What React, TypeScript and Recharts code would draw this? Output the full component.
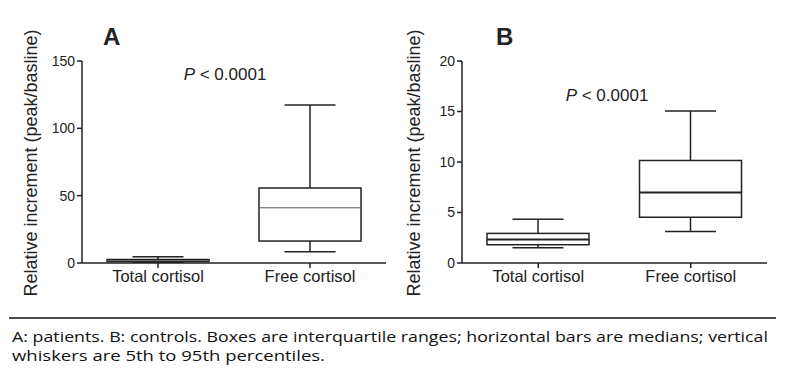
import { Bar, ComposedChart, XAxis, YAxis } from 'recharts';

const categories = ['Total cortisol', 'Free cortisol'];

// A: patients
const patientsLow = [0.6, 8.4];
const patientsQ1 = [1.0, 16.3];
const patientsMedian = [1.7, 41];
const patientsQ3 = [2.6, 55.7];
const patientsHigh = [4.6, 117.3];
const patientsTicks = [0, 50, 100, 150];

// B: controls
const controlsLow = [1.52, 3.12];
const controlsQ1 = [1.81, 4.53];
const controlsMedian = [2.33, 6.97];
const controlsQ3 = [2.93, 10.15];
const controlsHigh = [4.34, 15.04];
const controlsTicks = [0, 5, 10, 15, 20];

const FONT = '"Liberation Sans", Arial, sans-serif';
const INK = '#222';

type Row = { name: string; lo: number; q1: number; med: number; q3: number; hi: number };

function buildRows(lo: number[], q1: number[], med: number[], q3: number[], hi: number[]): Row[] {
  return categories.map((name, i) => ({ name, lo: lo[i], q1: q1[i], med: med[i], q3: q3[i], hi: hi[i] }));
}

// box + whiskers, positioned from the range bar that recharts lays out (lo..hi)
function makeBoxShape(medianWidth: number, medianColor: string) {
  return (props: any) => {
    const { x, y, width, height, payload } = props;
    const top = Math.min(y, y + height);
    const h = Math.abs(height);
    const bottom = top + h;
    const span = payload.hi - payload.lo;
    const py = (v: number) => bottom - ((v - payload.lo) / span) * h;
    const cx = x + width / 2;
    const cap = width / 4;
    return (
      <g stroke={INK} fill="none">
        <line x1={cx} x2={cx} y1={py(payload.hi)} y2={py(payload.q3)} strokeWidth={1.5} />
        <line x1={cx} x2={cx} y1={py(payload.q1)} y2={py(payload.lo)} strokeWidth={1.5} />
        <line x1={cx - cap} x2={cx + cap} y1={py(payload.hi)} y2={py(payload.hi)} strokeWidth={1.5} />
        <line x1={cx - cap} x2={cx + cap} y1={py(payload.lo)} y2={py(payload.lo)} strokeWidth={1.5} />
        <rect x={x} y={py(payload.q3)} width={width} height={py(payload.q1) - py(payload.q3)} fill="#fff" strokeWidth={1.5} />
        <line x1={x} x2={x + width} y1={py(payload.med)} y2={py(payload.med)} stroke={medianColor} strokeWidth={medianWidth} />
      </g>
    );
  };
}

function BoxPanel({ rows, ticks, marginLeft, marginRight, medianWidth, medianColor }: {
  rows: Row[]; ticks: number[]; marginLeft: number; marginRight: number; medianWidth: number; medianColor: string;
}) {
  return (
    <ComposedChart width={400} height={300} data={rows} margin={{ top: 61, right: marginRight, bottom: 7, left: marginLeft }}>
      <XAxis
        dataKey="name"
        tickSize={5}
        tickLine={{ stroke: INK, strokeWidth: 1.5 }}
        axisLine={{ stroke: INK, strokeWidth: 1.5 }}
        tick={{ fontSize: 16.5, fill: INK, fontFamily: FONT }}
        height={30}
        interval={0}
      />
      <YAxis
        width={40}
        domain={[0, ticks[ticks.length - 1]]}
        ticks={ticks}
        interval={0}
        tickSize={5}
        tickLine={{ stroke: INK, strokeWidth: 1.5 }}
        axisLine={{ stroke: INK, strokeWidth: 1.5 }}
        tick={{ fontSize: 14, fill: INK, fontFamily: FONT }}
      />
      <Bar
        dataKey={(d: Row) => [d.lo, d.hi]}
        barSize={102}
        shape={makeBoxShape(medianWidth, medianColor)}
        isAnimationActive={false}
      />
    </ComposedChart>
  );
}

export default function App() {
  const patients = buildRows(patientsLow, patientsQ1, patientsMedian, patientsQ3, patientsHigh);
  const controls = buildRows(controlsLow, controlsQ1, controlsMedian, controlsQ3, controlsHigh);
  return (
    <div style={{ position: 'absolute', left: 0, top: 0, width: 791, height: 389, background: '#fff' }}>
      <div style={{ position: 'absolute', left: 0, top: 0 }}>
        <BoxPanel rows={patients} ticks={patientsTicks} marginLeft={42} marginRight={14} medianWidth={1} medianColor="#555" />
      </div>
      <div style={{ position: 'absolute', left: 390, top: 0 }}>
        <BoxPanel rows={controls} ticks={controlsTicks} marginLeft={32} marginRight={23} medianWidth={2} medianColor={INK} />
      </div>
      <svg width={791} height={389} style={{ position: 'absolute', left: 0, top: 0, pointerEvents: 'none' }}>
        <g fontFamily={FONT} fill={INK}>
          <text x={103} y={45} fontSize={24} fontWeight="bold">A</text>
          <text x={496} y={45} fontSize={24} fontWeight="bold">B</text>
          <text x={225} y={80} fontSize={17} textAnchor="middle">
            <tspan fontStyle="italic">P</tspan> &lt; 0.0001
          </text>
          <text x={607} y={101} fontSize={17} textAnchor="middle">
            <tspan fontStyle="italic">P</tspan> &lt; 0.0001
          </text>
          <text x={37} y={163} fontSize={18} textAnchor="middle" transform="rotate(-90 37 163)">
            Relative increment (peak/basline)
          </text>
          <text x={420} y={163} fontSize={18} textAnchor="middle" transform="rotate(-90 420 163)">
            Relative increment (peak/basline)
          </text>
        </g>
        <line x1={9} x2={776} y1={318} y2={318} stroke="#111" strokeWidth={1.5} />
        <g fontFamily='"Open Sans", "Noto Sans", sans-serif' fontSize={13.9} fill="#111">
          <text x={12} y={341.5} textLength={756} lengthAdjust="spacingAndGlyphs">
            A: patients. B: controls. Boxes are interquartile ranges; horizontal bars are medians; vertical
          </text>
          <text x={12} y={360.5} textLength={313} lengthAdjust="spacingAndGlyphs">
            whiskers are 5th to 95th percentiles.
          </text>
        </g>
      </svg>
    </div>
  );
}
